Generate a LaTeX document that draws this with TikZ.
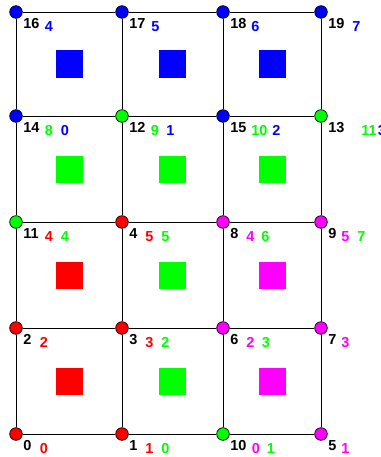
\documentclass[tikz,border=0pt]{standalone}
\usepackage{fontspec}
\setsansfont{Liberation Sans}
\usetikzlibrary{positioning,calc,backgrounds}
\definecolor{vblue}{RGB}{0,0,255}
\definecolor{vgreen}{RGB}{0,255,0}
\definecolor{vred}{RGB}{255,0,0}
\definecolor{vmagenta}{RGB}{255,0,255}

\begin{document}
\begin{tikzpicture}[
  x=0.25mm, y=-0.25mm,
  vert/.style={circle, draw, line width=0.5pt, minimum size=3.15mm, inner sep=0pt},
  cellsq/.style={rectangle, minimum size=6.75mm, inner sep=0pt},
  num/.style={anchor=base west, inner sep=0pt, font=\sffamily\bfseries\fontsize{10.3}{12}\selectfont},
  link/.style={draw, line width=0.7pt}
]
\useasboundingbox (0,0) rectangle (380,457);

% mesh vertices
\node[vert, fill=vblue] (n16) at (16,12) {};
\node[vert, fill=vblue] (n17) at (122,12) {};
\node[vert, fill=vblue] (n18) at (223,12) {};
\node[vert, fill=vblue] (n19) at (321,12) {};
\node[vert, fill=vblue] (n14) at (16,116) {};
\node[vert, fill=vgreen] (n12) at (122,116) {};
\node[vert, fill=vblue] (n15) at (223,116) {};
\node[vert, fill=vgreen] (n13) at (321,116) {};
\node[vert, fill=vgreen] (n11) at (16,222) {};
\node[vert, fill=vred] (n4) at (122,222) {};
\node[vert, fill=vmagenta] (n8) at (223,222) {};
\node[vert, fill=vmagenta] (n9) at (321,222) {};
\node[vert, fill=vred] (n2) at (16,328) {};
\node[vert, fill=vred] (n3) at (122,328) {};
\node[vert, fill=vmagenta] (n6) at (223,328) {};
\node[vert, fill=vmagenta] (n7) at (321,328) {};
\node[vert, fill=vred] (n0) at (16,434) {};
\node[vert, fill=vred] (n1) at (122,434) {};
\node[vert, fill=vgreen] (n10) at (223,434) {};
\node[vert, fill=vmagenta] (n5) at (321,434) {};

% mesh edges
\begin{scope}[on background layer]
  \draw[link] (n16) -- (n17) -- (n18) -- (n19);
  \draw[link] (n14) -- (n12) -- (n15) -- (n13);
  \draw[link] (n11) -- (n4) -- (n8) -- (n9);
  \draw[link] (n2) -- (n3) -- (n6) -- (n7);
  \draw[link] (n0) -- (n1) -- (n10) -- (n5);
  \draw[link] (n16) -- (n14) -- (n11) -- (n2) -- (n0);
  \draw[link] (n17) -- (n12) -- (n4) -- (n3) -- (n1);
  \draw[link] (n18) -- (n15) -- (n8) -- (n6) -- (n10);
  \draw[link] (n19) -- (n13) -- (n9) -- (n7) -- (n5);
\end{scope}

% cells
\node[cellsq, fill=vblue] (q11) at ($(n16)!0.5!(n12)$) {};
\node[cellsq, fill=vblue] (q12) at ($(n17)!0.5!(n15)$) {};
\node[cellsq, fill=vblue] (q13) at ($(n18)!0.5!(n13)$) {};
\node[cellsq, fill=vgreen] (q21) at ($(n14)!0.5!(n4)$) {};
\node[cellsq, fill=vgreen] (q22) at ($(n12)!0.5!(n8)$) {};
\node[cellsq, fill=vgreen] (q23) at ($(n15)!0.5!(n9)$) {};
\node[cellsq, fill=vred] (q31) at ($(n11)!0.5!(n3)$) {};
\node[cellsq, fill=vgreen] (q32) at ($(n4)!0.5!(n6)$) {};
\node[cellsq, fill=vmagenta] (q33) at ($(n8)!0.5!(n7)$) {};
\node[cellsq, fill=vred] (q41) at ($(n2)!0.5!(n1)$) {};
\node[cellsq, fill=vgreen] (q42) at ($(n3)!0.5!(n10)$) {};
\node[cellsq, fill=vmagenta] (q43) at ($(n6)!0.5!(n5)$) {};

% vertex numbers
\node[num] (l16) at ([shift={(7,16.5)}]n16) {16};
\node[num, text=vblue] (l16a) at ([shift={(28.5,19.5)}]n16) {4};
\node[num] (l17) at ([shift={(7,16.5)}]n17) {17};
\node[num, text=vblue] (l17a) at ([shift={(29,19.5)}]n17) {5};
\node[num] (l18) at ([shift={(7,16.5)}]n18) {18};
\node[num, text=vblue] (l18a) at ([shift={(28,19.5)}]n18) {6};
\node[num] (l19) at ([shift={(7,16.5)}]n19) {19};
\node[num, text=vblue] (l19a) at ([shift={(31,19.5)}]n19) {7};

\node[num] (l14) at ([shift={(7,16.5)}]n14) {14};
\node[num, text=vgreen] (l14a) at ([shift={(28.5,19.5)}]n14) {8};
\node[num, text=vblue] (l14b) at ([shift={(44.5,19.5)}]n14) {0};
\node[num] (l12) at ([shift={(7,16.5)}]n12) {12};
\node[num, text=vgreen] (l12a) at ([shift={(28.5,19.5)}]n12) {9};
\node[num, text=vblue] (l12b) at ([shift={(44,19.5)}]n12) {1};
\node[num] (l15) at ([shift={(7,16.5)}]n15) {15};
\node[num, text=vgreen] (l15a) at ([shift={(28,19.5)}]n15) {10};
\node[num, text=vblue] (l15b) at ([shift={(49,19.5)}]n15) {2};
\node[num] (l13) at ([shift={(7,16.5)}]n13) {13};
\node[num, text=vgreen] (l13a) at ([shift={(40,19.5)}]n13) {11};
\node[num, text=vblue] (l13b) at ([shift={(56.5,19.5)}]n13) {3};

\node[num] (l11) at ([shift={(7,16.5)}]n11) {11};
\node[num, text=vred] (l11a) at ([shift={(28.5,19.5)}]n11) {4};
\node[num, text=vgreen] (l11b) at ([shift={(44.5,19.5)}]n11) {4};
\node[num] (l4) at ([shift={(7,16.5)}]n4) {4};
\node[num, text=vred] (l4a) at ([shift={(23,19.5)}]n4) {5};
\node[num, text=vgreen] (l4b) at ([shift={(39,19.5)}]n4) {5};
\node[num] (l8) at ([shift={(7,16.5)}]n8) {8};
\node[num, text=vmagenta] (l8a) at ([shift={(23,19.5)}]n8) {4};
\node[num, text=vgreen] (l8b) at ([shift={(38,19.5)}]n8) {6};
\node[num] (l9) at ([shift={(7,16.5)}]n9) {9};
\node[num, text=vmagenta] (l9a) at ([shift={(20,19.5)}]n9) {5};
\node[num, text=vgreen] (l9b) at ([shift={(36,19.5)}]n9) {7};

\node[num] (l2) at ([shift={(7,16.5)}]n2) {2};
\node[num, text=vred] (l2a) at ([shift={(23.5,19.5)}]n2) {2};
\node[num] (l3) at ([shift={(7,16.5)}]n3) {3};
\node[num, text=vred] (l3a) at ([shift={(23,19.5)}]n3) {3};
\node[num, text=vgreen] (l3b) at ([shift={(39,19.5)}]n3) {2};
\node[num] (l6) at ([shift={(7,16.5)}]n6) {6};
\node[num, text=vmagenta] (l6a) at ([shift={(23,19.5)}]n6) {2};
\node[num, text=vgreen] (l6b) at ([shift={(38.5,19.5)}]n6) {3};
\node[num] (l7) at ([shift={(7,16.5)}]n7) {7};
\node[num, text=vmagenta] (l7a) at ([shift={(20,19.5)}]n7) {3};

\node[num] (l0) at ([shift={(7,16.5)}]n0) {0};
\node[num, text=vred] (l0a) at ([shift={(23.5,19.5)}]n0) {0};
\node[num] (l1) at ([shift={(7,16.5)}]n1) {1};
\node[num, text=vred] (l1a) at ([shift={(23,19.5)}]n1) {1};
\node[num, text=vgreen] (l1b) at ([shift={(39,19.5)}]n1) {0};
\node[num] (l10) at ([shift={(7,16.5)}]n10) {10};
\node[num, text=vmagenta] (l10a) at ([shift={(28.5,19.5)}]n10) {0};
\node[num, text=vgreen] (l10b) at ([shift={(43.5,19.5)}]n10) {1};
\node[num] (l5) at ([shift={(7,16.5)}]n5) {5};
\node[num, text=vmagenta] (l5a) at ([shift={(20,19.5)}]n5) {1};
\end{tikzpicture}
\end{document}
